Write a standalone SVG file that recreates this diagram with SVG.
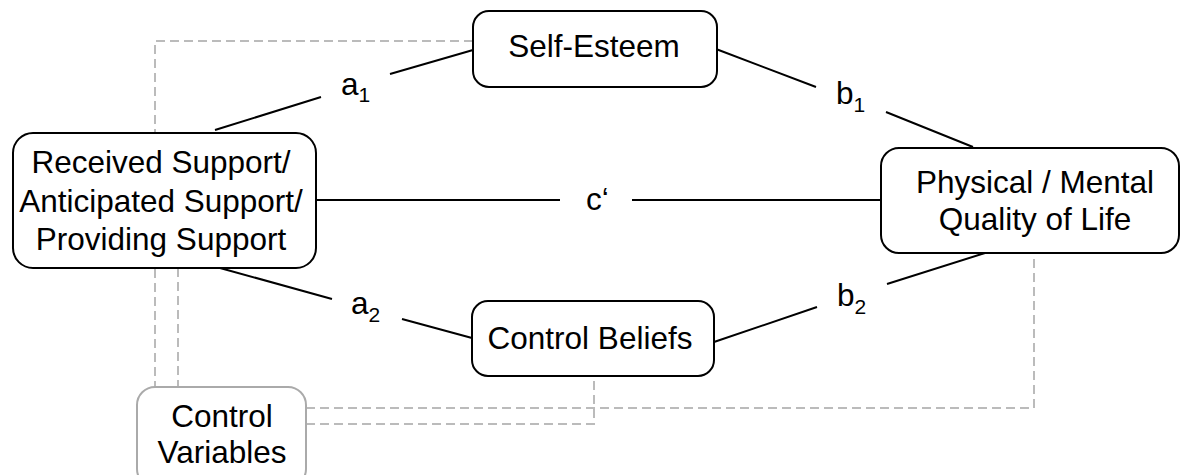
<svg xmlns="http://www.w3.org/2000/svg" width="1181" height="475" viewBox="0 0 1181 475">
<style>
.box{fill:#fff;stroke:#000;stroke-width:2}
.cbox{fill:#fff;stroke:#aaa;stroke-width:2}
.t{font-family:"Liberation Sans",Arial,sans-serif;font-size:31.5px;fill:#000;text-anchor:middle}
.lbl{font-family:"Liberation Sans",Arial,sans-serif;font-size:31.5px;fill:#000}
.sub{font-size:21px}
.ln{stroke:#000;stroke-width:2;fill:none}
.dash{stroke:#bbb;stroke-width:2;fill:none;stroke-dasharray:9 5}
</style>
<rect width="1181" height="475" fill="#fff"/>
<g id="controls-connectors">
<path class="dash" d="M473,41 H155 V387"/>
<path class="dash" d="M178,268 V387"/>
<path class="dash" d="M306,408 H1034 V253"/>
<path class="dash" d="M306,424 H594 V377"/>
</g>
<g id="connectors">
<path class="ln" d="M215,130 L321,97 M390,74 L473,50"/>
<path class="ln" d="M716,49 L816,87 M886,112 L973,147"/>
<path class="ln" d="M220,268 L332,299 M402,319 L472,338"/>
<path class="ln" d="M714,342 L817,307 M887,284 L985,253"/>
<path class="ln" d="M316,200 H560 M632,200 H881"/>
<text class="lbl" x="341" y="95">a<tspan class="sub" dy="7">1</tspan></text>
<text class="lbl" x="836" y="104">b<tspan class="sub" dy="8">1</tspan></text>
<text class="lbl" x="351" y="314">a<tspan class="sub" dy="8">2</tspan></text>
<text class="lbl" x="837" y="306">b<tspan class="sub" dy="8">2</tspan></text>
<text class="lbl" x="586" y="210">c‘</text>
</g>
<g id="received-support">
<rect class="box" x="13" y="133" width="303" height="135" rx="20"/>
<text class="t" x="161" y="173">Received Support/</text>
<text class="t" x="161" y="212">Anticipated Support/</text>
<text class="t" x="161" y="250">Providing Support</text>
</g>
<g id="self-esteem">
<rect class="box" x="473" y="11" width="244" height="76" rx="16"/>
<text class="t" x="594" y="57">Self-Esteem</text>
</g>
<g id="control-beliefs">
<rect class="box" x="472" y="301" width="242" height="75" rx="16"/>
<text class="t" x="590" y="349">Control Beliefs</text>
</g>
<g id="quality-of-life">
<rect class="box" x="881" y="148" width="298" height="105" rx="18"/>
<text class="t" x="1035" y="193">Physical / Mental</text>
<text class="t" x="1035" y="230">Quality of Life</text>
</g>
<g id="control-variables">
<rect class="cbox" x="137" y="387" width="169" height="100" rx="18"/>
<text class="t" x="222" y="427">Control</text>
<text class="t" x="222" y="463">Variables</text>
</g>
</svg>
